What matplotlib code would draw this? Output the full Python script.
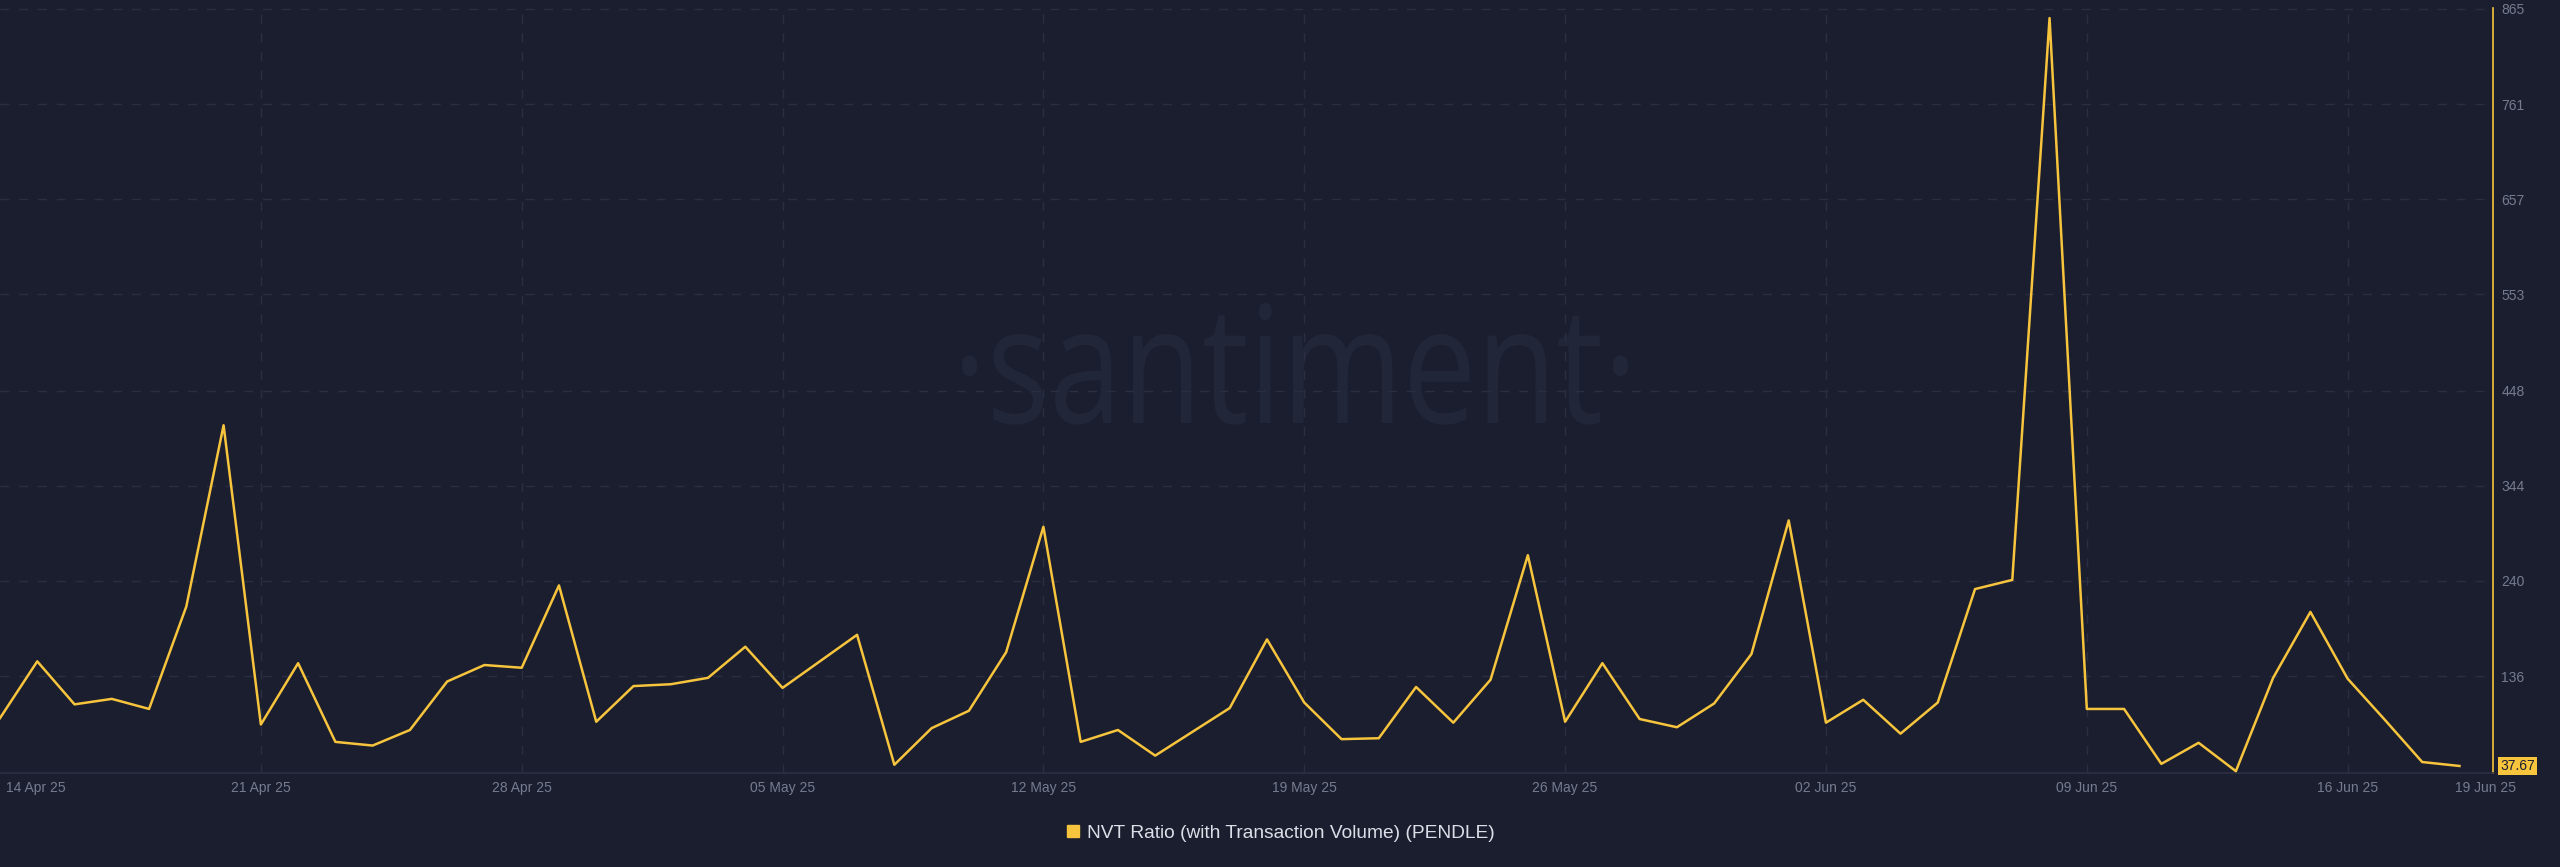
import numpy as np
import pandas as pd
import matplotlib
matplotlib.use('Agg')
import matplotlib.pyplot as plt
from matplotlib.textpath import TextPath
from matplotlib.patches import PathPatch
from matplotlib.font_manager import FontProperties
from matplotlib.transforms import Affine2D, ScaledTranslation, blended_transform_factory
from matplotlib.lines import Line2D

# daily NVT values, 14 Apr 25 .. 19 Jun 25
dates = pd.date_range('2025-04-14', periods=67, freq='D')
nvt = [90, 152, 105, 111, 100, 212, 410, 83, 150, 64,
       60, 77, 130, 148, 145, 235, 86, 125, 127, 134,
       168, 123, 152, 181, 39, 79, 98, 162, 299, 64,
       77, 49, 75, 101, 176, 107, 67, 68, 124, 85,
       132, 268, 86, 150, 89, 80, 106, 160, 306, 85,
       110, 73, 107, 231, 241, 855, 100, 100, 40, 63,
       32, 134, 206, 133, 88, 42, 37.67]

week_ticks = pd.date_range('2025-04-14', '2025-06-16', freq='7D')
last_tick = dates[0] + pd.Timedelta(days=66.7)
x_labels = [d.strftime('%d %b %y') for d in week_ticks] + ['19 Jun 25']
y_ticks = [136, 240, 344, 448, 553, 657, 761, 865]
last_value = '37.67'
series_name = 'NVT Ratio (with Transaction Volume) (PENDLE)'

bg = '#1b1e2e'
yellow = '#f7c43d'
grid_col = '#2a2e42'
label_col = '#767c90'

plt.rcParams['font.family'] = ['Liberation Sans', 'DejaVu Sans']

fig = plt.figure(figsize=(25.6, 8.67), dpi=100, facecolor=bg)
ax = fig.add_axes([0, 94 / 867, 2493 / 2560, (773 - 8) / 867])
ax.set_facecolor('none')

# watermark
wm = TextPath((0, 0), '·santiment·', size=100, prop=FontProperties(family='Open Sans'))
ext = wm.get_extents()
sx = (1628 - 962) / (ext.x1 - ext.x0)
sy = (564 - 444) / ext.y1
tr = Affine2D().scale(sx, sy).translate(962 - ext.x0 * sx, 444)
ax.add_artist(PathPatch(wm, transform=tr, facecolor='#222639', edgecolor='none', zorder=0.5))

ax.plot(dates, nvt, color=yellow, lw=1.8, zorder=3)

ax.set_xlim(dates[0], dates[0] + pd.Timedelta(days=66.9))
ax.set_ylim(30, 866)

# grid
for d in week_ticks[1:]:
    ax.axvline(d, color=grid_col, lw=1, dashes=(6.5, 7), zorder=1)
ax.set_yticks(y_ticks)
ax.grid(axis='y', color=grid_col, lw=1, dashes=(6.5, 7), zorder=1)

ax.set_xticks(list(week_ticks) + [last_tick])
ax.set_xticklabels(x_labels)
ax.tick_params(axis='x', length=0, pad=6, labelsize=10, labelcolor=label_col)
first = ax.get_xticklabels()[0]
first.set_ha('left')
first.set_transform(first.get_transform() + ScaledTranslation(6 / 100, 0, fig.dpi_scale_trans))

ax.yaxis.tick_right()
ax.tick_params(axis='y', length=0, pad=6, labelsize=10, labelcolor=label_col)

for s in ['top', 'left']:
    ax.spines[s].set_visible(False)
ax.spines['bottom'].set_color('#2c3045')
ax.spines['bottom'].set_linewidth(1.2)
ax.spines['right'].set_color(yellow)
ax.spines['right'].set_linewidth(1.2)

# last value tag
tag_tr = blended_transform_factory(ax.transAxes, ax.transData)
ax.annotate(last_value, xy=(1.0, nvt[-1]), xycoords=tag_tr, xytext=(5, 0),
            textcoords='offset points', ha='left', va='center', fontsize=10,
            color=bg, annotation_clip=False,
            bbox=dict(boxstyle='square,pad=0.15', fc=yellow, ec='none'))

handle = Line2D([], [], marker='s', ls='none', color=yellow, markersize=8.5)
leg = fig.legend([handle], [series_name], loc='center', bbox_to_anchor=(0.5, 1 - 833 / 867),
                 frameon=False, handlelength=0.8, handletextpad=0.3, fontsize=13.8)
for t in leg.get_texts():
    t.set_color('#dcdfe7')

fig.savefig('out.png', dpi=100, facecolor=bg)
